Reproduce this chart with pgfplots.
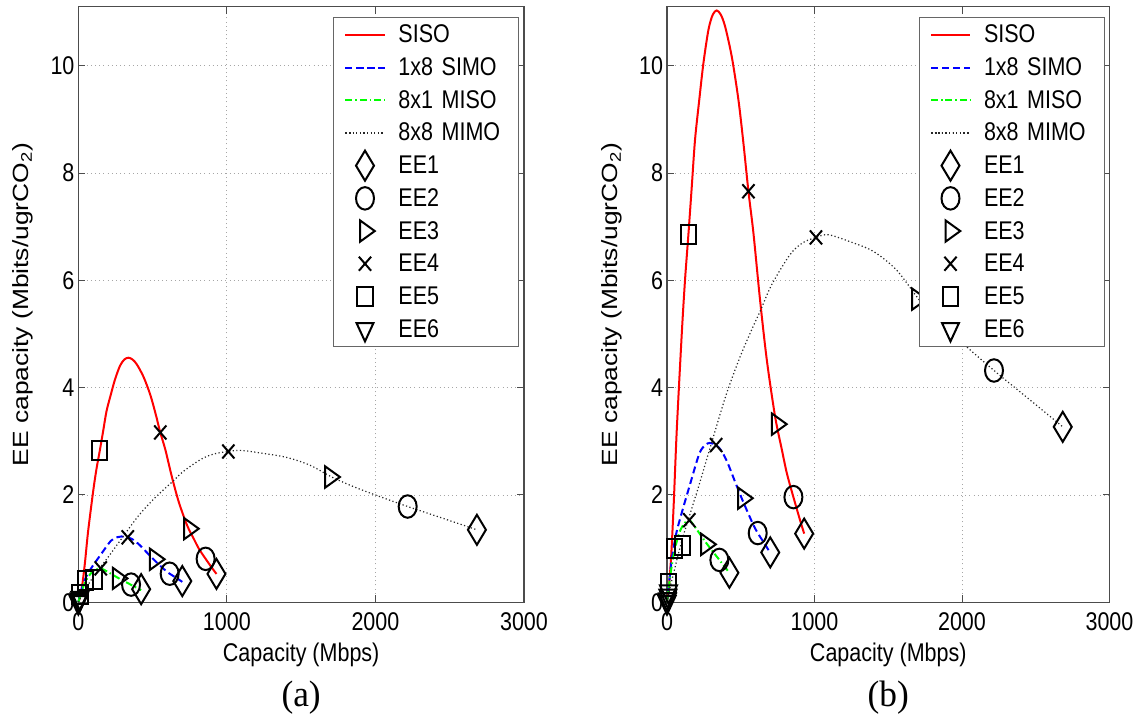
\documentclass[border=0pt]{standalone}
\usepackage{fontspec}
\setmainfont{Liberation Sans}[FakeStretch=0.84]
\newfontfamily\ylabfont{Liberation Sans}[FakeStretch=1.2]
\newfontfamily\capfont{Liberation Serif}[FakeStretch=0.96]
\usepackage{pgfplots}
\pgfplotsset{compat=1.18}

\pgfplotsset{
  eeaxis/.style={
    scale only axis, width=222.85pt, height=297.8pt,
    xmin=0, xmax=3000, ymin=0, ymax=11.1,
    xtick={0,1000,2000,3000}, xticklabels={0,1000,2000,3000},
    ytick={0,2,4,6,8,10}, yticklabels={0,2,4,6,8,10},
    tick align=inside, major tick length=3.5pt,
    tick style={black!70, line width=0.5pt},
    axis line style={black!70, line width=0.6pt},
    grid=major,
    major grid style={gray!70, line width=0.4pt, dash pattern=on 0.5pt off 1.6pt},
    font=\fontsize{12.8}{15}\selectfont,
    /pgf/number format/assume math mode=true,
    xticklabel style={yshift=-1.5pt},
    yticklabel style={xshift=1.6pt},
    xlabel={Capacity (Mbps)},
    xlabel style={at={(axis description cs:0.5,0)}, anchor=center, yshift=-26.35pt},
    ylabel={\ylabfont\fontsize{11}{13}\selectfont EE capacity (Mbits/ugrCO\textsubscript{2})},
    ylabel style={at={(axis description cs:-0.1245,0.5)}, anchor=center},
    clip=false,
    legend cell align=left,
    legend image code/.code={\draw[mark repeat=2,mark phase=2,##1] plot coordinates {(0pt,0pt) (9.75pt,0pt) (19.5pt,0pt)};},
    legend style={at={(1,1)}, anchor=north east, xshift=-2.5pt, yshift=-5.15pt,
      draw=black!60, line width=0.5pt, inner xsep=5.5pt, inner ysep=0.5pt, row sep=0pt,
      nodes={inner sep=0pt, text height=12.2pt, text depth=4.15pt, text width=54.5pt},
      /tikz/every odd column/.append style={column sep=6.5pt}},
    legend entries={SISO, 1x8 SIMO, 8x1 MISO, 8x8 MIMO, EE1, EE2, EE3, EE4, EE5, EE6},
  },
  siso/.style={red, solid, line width=1pt, smooth, mark=none},
  simo/.style={blue, line width=1pt, dash pattern=on 3.5pt off 2pt, smooth, mark=none},
  miso/.style={color={rgb,1:red,0;green,1;blue,0}, line width=1pt, dash pattern=on 3.5pt off 1.5pt on 0.7pt off 1.5pt, smooth, mark=none},
  mimo/.style={black!85, line width=0.6pt, dash pattern=on 0.6pt off 1.2pt, smooth, mark=none},
  ee1/.style={black, only marks, mark=diamond, mark size=6pt, mark options={solid, black, line width=1pt, yscale=1.25}},
  ee2/.style={black, only marks, mark=o, mark size=4.5pt, mark options={solid, black, line width=1pt, yscale=1.25}},
  ee3/.style={black, only marks, mark=triangle, mark size=4.9pt, mark options={solid, black, line width=1pt, yscale=1.25, rotate=-90}},
  ee4/.style={black, only marks, mark=x, mark size=4.3pt, mark options={solid, black, line width=1pt, yscale=1.15}},
  ee5/.style={black, only marks, mark=square, mark size=3.8pt, mark options={solid, black, line width=1pt, yscale=1.25}},
  ee6/.style={black, only marks, mark=triangle, mark size=4.9pt, mark options={solid, black, line width=1pt, yscale=1.25, rotate=180}},
}

\begin{document}
\begin{tikzpicture}
\useasboundingbox (-39.15pt,-57.35pt) rectangle (530.85pt,301.15pt);

% (a)
\begin{axis}[eeaxis, at={(0pt,0pt)}]
\addplot[siso] coordinates {
  (0,0) (10,0.083) (27,0.331) (45,0.744) (66,1.322) (100,2.066) (122,2.479) (145,2.831)
  (168,3.202) (190,3.562) (219,3.872) (247,4.153) (281,4.409) (310,4.525) (337,4.558)
  (365,4.525) (394,4.434) (439,4.202) (484,3.872) (518,3.537) (552,3.165) (586,2.843)
  (631,2.326) (677,1.864) (733,1.430) (779,1.174) (813,0.992) (857,0.810) (900,0.640) (930,0.529)
};
\addplot[simo] coordinates {
  (0,0) (30,0.31) (60,0.517) (95,0.669) (151,0.888) (219,1.145) (260,1.211) (290,1.227)
  (333,1.211) (370,1.165) (412,1.070) (468,0.909) (520,0.764) (581,0.607) (615,0.533)
  (660,0.455) (700,0.380)
};
\addplot[miso] coordinates {
  (0,0) (25,0.227) (50,0.393) (84,0.537) (120,0.612) (150,0.632) (175,0.603) (265,0.459)
  (355,0.326) (423,0.227)
};
\addplot[mimo] coordinates {
  (0,0) (16,0.091) (50,0.248) (72,0.351) (106,0.496) (140,0.620) (185,0.785) (219,0.909)
  (264,1.083) (298,1.211) (344,1.388) (405,1.612) (460,1.785) (517,1.950) (597,2.157)
  (631,2.240) (710,2.446) (834,2.678) (920,2.769) (1010,2.810) (1094,2.831) (1241,2.777)
  (1399,2.702) (1557,2.558) (1715,2.322) (1870,2.136) (2032,1.967) (2217,1.785)
  (2439,1.579) (2683,1.351)
};
\addplot[ee1] coordinates {(930,0.529) (700,0.395) (423,0.245) (2683,1.351)};
\addplot[ee2] coordinates {(857,0.810) (615,0.533) (355,0.330) (2217,1.785)};
\addplot[ee3] coordinates {(745,1.372) (515,0.802) (265,0.446) (1695,2.335)};
\addplot[ee4] coordinates {(552,3.165) (333,1.211) (151,0.632) (1010,2.810)};
\addplot[ee5] coordinates {(145,2.831) (106,0.434) (50,0.413) (11,0.145)};
\addplot[ee6] coordinates {(0,0) (3,0.02) (6,0.05) (10,0.08)};
\node[font=\capfont\fontsize{18.4}{20}\selectfont, anchor=center, yshift=-47.85pt] at (rel axis cs:0.5,0) {(a)};
\end{axis}

% (b)
\begin{axis}[eeaxis, at={(294.35pt,0pt)}, width=221.25pt]
\addplot[siso] coordinates {
  (0,0) (10,0.2) (27,0.8) (45,1.8) (66,3.2) (100,5.0) (122,6.0) (145,6.85)
  (168,7.75) (190,8.62) (219,9.37) (247,10.05) (281,10.67) (310,10.95) (337,11.03)
  (365,10.95) (394,10.73) (439,10.17) (484,9.37) (518,8.56) (552,7.66) (586,6.88)
  (631,5.63) (677,4.51) (733,3.46) (779,2.84) (813,2.40) (857,1.96) (900,1.55) (930,1.28)
};
\addplot[simo] coordinates {
  (0,0) (30,0.75) (60,1.25) (95,1.62) (151,2.15) (219,2.77) (260,2.93) (290,2.97)
  (333,2.93) (370,2.82) (412,2.59) (468,2.20) (520,1.85) (581,1.47) (615,1.29)
  (660,1.10) (700,0.92)
};
\addplot[miso] coordinates {
  (0,0) (25,0.55) (50,0.95) (84,1.30) (120,1.48) (150,1.53) (175,1.46) (265,1.11)
  (355,0.79) (423,0.55)
};
\addplot[mimo] coordinates {
  (0,0) (16,0.22) (50,0.60) (72,0.85) (106,1.20) (140,1.50) (185,1.90) (219,2.20)
  (264,2.62) (298,2.93) (344,3.36) (405,3.90) (460,4.32) (517,4.72) (597,5.22)
  (631,5.42) (710,5.92) (834,6.48) (920,6.70) (1010,6.80) (1094,6.85) (1241,6.72)
  (1399,6.54) (1557,6.19) (1715,5.62) (1870,5.17) (2032,4.76) (2217,4.32)
  (2439,3.82) (2683,3.27)
};
\addplot[ee1] coordinates {(930,1.28) (700,0.93) (423,0.55) (2683,3.27)};
\addplot[ee2] coordinates {(857,1.96) (615,1.29) (355,0.79) (2217,4.32)};
\addplot[ee3] coordinates {(745,3.32) (515,1.94) (265,1.08) (1695,5.65)};
\addplot[ee4] coordinates {(552,7.66) (333,2.93) (151,1.53) (1010,6.80)};
\addplot[ee5] coordinates {(145,6.85) (106,1.05) (50,1.00) (11,0.35)};
\addplot[ee6] coordinates {(0,0) (3,0.05) (6,0.12) (10,0.20)};
\node[font=\capfont\fontsize{18.4}{20}\selectfont, anchor=center, yshift=-47.85pt] at (rel axis cs:0.5,0) {(b)};
\end{axis}
\end{tikzpicture}
\end{document}
